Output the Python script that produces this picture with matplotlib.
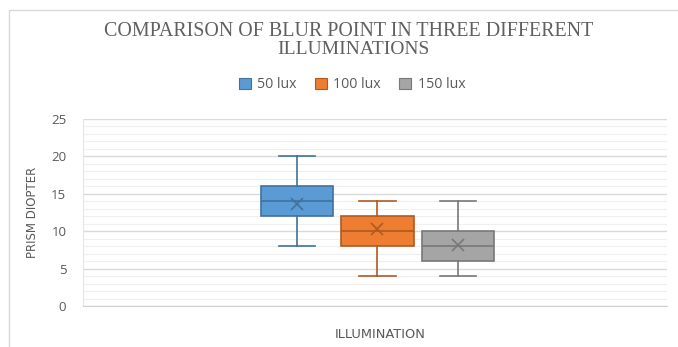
import matplotlib
matplotlib.use("Agg")
import matplotlib.pyplot as plt
from matplotlib.patches import Rectangle
from matplotlib.ticker import MultipleLocator

categories = ["50 lux", "100 lux", "150 lux"]
whisker_low = [8, 4, 4]
q1 = [12, 8, 6]
median = [14, 10, 8]
q3 = [16, 12, 10]
whisker_high = [20, 14, 14]
means = [13.6, 10.3, 8.2]
fill_colors = ["#5B9BD5", "#ED7D31", "#A5A5A5"]
edge_colors = ["#41719C", "#AE5A21", "#787878"]

fig = plt.figure(figsize=(6.78, 3.47), dpi=100)
fig.patch.set_facecolor("white")
W, H = 678, 347
ax = fig.add_axes([83 / W, 1 - 306 / H, (667 - 83) / W, (306 - 119) / H])

# outer chart border
fig.patches.append(Rectangle((9 / W, -0.1), 1.2, 1 - 10 / H + 0.1, transform=fig.transFigure,
                             fill=False, edgecolor="#d9d9d9", linewidth=1))

stats = []
for i, c in enumerate(categories):
    stats.append(dict(label=c, whislo=whisker_low[i], q1=q1[i], med=median[i],
                      q3=q3[i], whishi=whisker_high[i], mean=means[i]))

positions = [1, 2, 3]
for i, s in enumerate(stats):
    ax.bxp([s], positions=[positions[i]], widths=0.9, patch_artist=True, showmeans=True,
           showfliers=False,
           boxprops=dict(facecolor=fill_colors[i], edgecolor=edge_colors[i], linewidth=1.2),
           medianprops=dict(color=edge_colors[i], linewidth=1.2),
           whiskerprops=dict(color=edge_colors[i], linewidth=1.2),
           capprops=dict(color=edge_colors[i], linewidth=1.2),
           meanprops=dict(marker="x", markeredgecolor=edge_colors[i], markersize=9,
                          markeredgewidth=1.2),
           capwidths=0.45)

ax.set_xlim(-1.66, 5.6)
ax.set_ylim(0, 25)
ax.yaxis.set_major_locator(MultipleLocator(5))
ax.yaxis.set_minor_locator(MultipleLocator(1))
ax.grid(which="major", axis="y", color="#d9d9d9", linewidth=1)
ax.grid(which="minor", axis="y", color="#efefef", linewidth=0.8)
ax.set_axisbelow(True)
ax.set_xticks([])
ax.tick_params(axis="y", which="both", length=0, labelsize=9.5, labelcolor="#595959", pad=12)
for lab in ax.get_yticklabels():
    lab.set_family("Open Sans")
for sp in ["top", "right"]:
    ax.spines[sp].set_visible(False)
ax.spines["left"].set_color("#e6e6e6")
ax.spines["bottom"].set_color("#d0d0d0")

fig.text(349 / W, 1 - 31 / H, "COMPARISON OF BLUR POINT IN THREE DIFFERENT", ha="center", va="center",
         family="Liberation Serif", fontsize=14.4, color="#606060")
fig.text(353 / W, 1 - 49 / H, "ILLUMINATIONS", ha="center", va="center",
         family="Liberation Serif", fontsize=14, color="#606060")

fig.text(33 / W, 1 - 212 / H, "PRISM DIOPTER", rotation=90, ha="center", va="center",
         family="DejaVu Sans", fontsize=8.5, color="#595959")
fig.text(380 / W, 1 - 335 / H, "ILLUMINATION", ha="center", va="center",
         family="DejaVu Sans", fontsize=9.4, color="#595959")

handles = [Rectangle((0, 0), 1, 1, facecolor=fill_colors[i], edgecolor=edge_colors[i], linewidth=0.8)
           for i in range(3)]
fig.legend(handles, categories, loc="center", bbox_to_anchor=(352 / W, 1 - 85 / H), ncol=3,
           frameon=False, prop=dict(family="Open Sans", size=10.2), labelcolor="#595959",
           handlelength=0.85, handleheight=0.85, handletextpad=0.45, columnspacing=1.3)

fig.savefig("out.png", dpi=100, facecolor="white")
